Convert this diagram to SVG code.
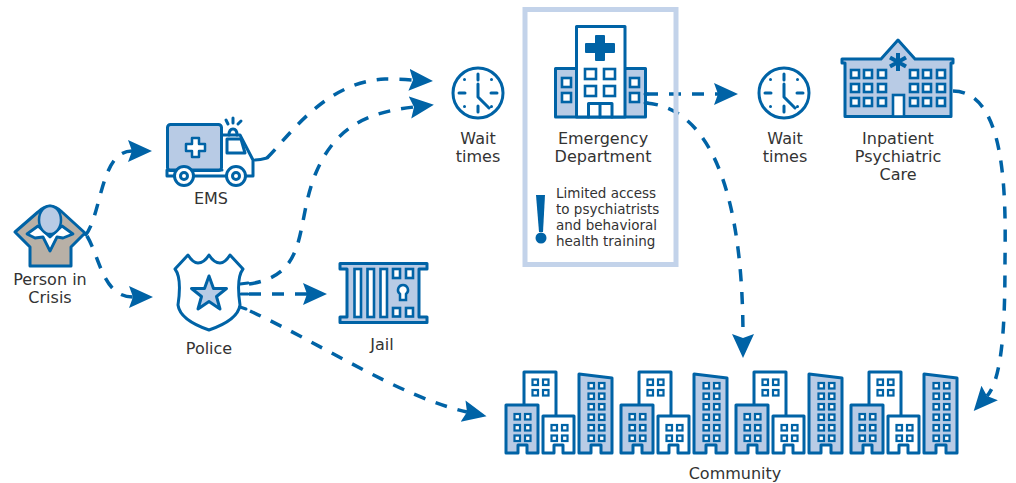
<svg xmlns="http://www.w3.org/2000/svg" xmlns:xlink="http://www.w3.org/1999/xlink" width="1016" height="483" viewBox="0 0 1016 483">
<style>
text{font-family:"DejaVu Sans","Noto Sans",sans-serif;font-size:16px;fill:#333;text-anchor:middle}
.small{font-size:13.500px;text-anchor:start}
.ln{stroke:#0063a6;stroke-width:3;fill:none;stroke-linejoin:round;stroke-linecap:round}
.bl{stroke:#0063a6;stroke-width:3;fill:#b8cbe5;stroke-linejoin:round}
.wh{stroke:#0063a6;stroke-width:3;fill:#fff;stroke-linejoin:round}
.win{stroke:#0063a6;stroke-width:2.600;fill:#fff}
.cw{stroke:#0063a6;stroke-width:2.200;fill:#fff}
.dash{stroke:#0063a6;stroke-width:3.500;fill:none;stroke-dasharray:12 11}
.solid{fill:#0063a6}
</style>
<defs>
<marker id="head" markerUnits="userSpaceOnUse" markerWidth="26" markerHeight="24" refX="4" refY="11" orient="auto"><path class="solid" d="M0,0 L24,11 L0,22 L4,11Z"/></marker>
<g id="clock">
<circle class="ln" r="25"/>
<path class="ln" d="M0,-19V-13M0,19V13M-19,0H-13M19,0H13M-13.500,-13.500h.01M13.500,-13.500h.01M-13.500,13.500h.01M13.500,13.500h.01M0,-9V4L11,15"/>
</g>
<g id="cluster">
<path class="wh" d="M524,405V372H556V416"/>
<path class="bl" d="M506,453V405H538V453H527V445H518V453Z"/>
<path class="wh" d="M543,453V416H574V453H563V445H554V453Z"/>
<path class="bl" d="M579,453V374L612,378V453H601V445H591V453Z"/>
<g class="cw">
<rect x="532.500" y="379.500" width="5.500" height="5.500"/><rect x="543" y="379.500" width="5.500" height="5.500"/><rect x="532.500" y="390" width="5.500" height="5.500"/><rect x="543" y="390" width="5.500" height="5.500"/>
<rect x="514.500" y="414" width="5.500" height="5.500"/><rect x="525" y="414" width="5.500" height="5.500"/><rect x="514.500" y="425" width="5.500" height="5.500"/><rect x="525" y="425" width="5.500" height="5.500"/><rect x="514.500" y="435.500" width="5.500" height="5.500"/><rect x="525" y="435.500" width="5.500" height="5.500"/>
<rect x="551.500" y="425" width="5.500" height="5.500"/><rect x="562" y="425" width="5.500" height="5.500"/><rect x="551.500" y="435.500" width="5.500" height="5.500"/><rect x="562" y="435.500" width="5.500" height="5.500"/>
<rect x="588.500" y="383" width="5.500" height="5.500"/><rect x="599" y="383" width="5.500" height="5.500"/><rect x="588.500" y="393.500" width="5.500" height="5.500"/><rect x="599" y="393.500" width="5.500" height="5.500"/><rect x="588.500" y="404" width="5.500" height="5.500"/><rect x="599" y="404" width="5.500" height="5.500"/><rect x="588.500" y="414.500" width="5.500" height="5.500"/><rect x="599" y="414.500" width="5.500" height="5.500"/><rect x="588.500" y="425" width="5.500" height="5.500"/><rect x="599" y="425" width="5.500" height="5.500"/><rect x="588.500" y="435.500" width="5.500" height="5.500"/><rect x="599" y="435.500" width="5.500" height="5.500"/>
</g>
</g>
</defs>
<rect width="1016" height="483" fill="#fff"/>

<g id="connectors">
<path class="dash" marker-end="url(#head)" d="M85,236C102,215 100,151 132,151"/>
<path class="dash" marker-end="url(#head)" d="M87,236C100,258 103,297 133,297"/>
<path class="ln" d="M255,160Q260,160 267,158"/>
<path class="dash" marker-end="url(#head)" d="M267,158C290,135 325,82 385,79Q395,79 413,80"/>
<path class="dash" marker-end="url(#head)" d="M249,284C310,275 295,225 315,175C335,125 370,112 414,107"/>
<path class="dash" marker-end="url(#head)" d="M249,294H307"/>
<path class="dash" marker-end="url(#head)" d="M250,311C320,343 400,397 467,412"/>
<path class="dash" marker-end="url(#head)" d="M646,94H718"/>
<path class="dash" marker-end="url(#head)" d="M646,103C700,107 743,170 743,338"/>
<path class="dash" marker-end="url(#head)" d="M953,91C1005,92 1006,190 1005,260C1005,320 1003,378 987,396"/>
</g>

<g id="person">
<path class="ln" style="fill:#b8b0a6" d="M30,266V247L15,232L38,212Q50,200 62,212L85,233L71,247V266Z"/>
<path fill="#fff" stroke="#0063a6" stroke-width="2.800" stroke-linejoin="round" d="M27,234L38,226L50,237L62,226L73,234L63,238L57,237L50,251L43,237L35,238Z"/>
<ellipse cx="50" cy="220" rx="11" ry="14" fill="#b8cbe5" stroke="#0063a6" stroke-width="2.500"/>
<text><tspan x="50" y="285">Person in</tspan><tspan x="50" y="303">Crisis</tspan></text>
</g>

<g id="ems">
<rect class="bl" x="167.500" y="124.500" width="54" height="46" rx="3"/>
<path class="ln" d="M222,135H240L253,160V176H167V170H222"/>
<path class="ln" d="M227,139H241L245,153H227Z"/>
<circle class="wh" cx="184" cy="176" r="9.500"/><circle class="wh" cx="184" cy="176" r="3.500"/>
<circle class="wh" cx="236" cy="176" r="9.500"/><circle class="wh" cx="236" cy="176" r="3.500"/>
<path class="ln" d="M229,135Q229,129 233,129Q237,129 237,135M226,120L228,124M233,118V123M241,121L238,124"/>
<path d="M192,138h7v6h6v7h-6v6h-7v-6h-6v-7h6Z" fill="#fff" stroke="#0063a6" stroke-width="2.500" stroke-linejoin="round"/>
<text x="211" y="204">EMS</text>
</g>

<g id="police">
<path class="ln" d="M175,269L188,255Q193,263 198,263Q204,263 209,255Q214,263 220,263Q225,263 230,255L243,269Q236,278 240,305Q238,320 209,330Q180,320 178,305Q182,278 175,269Z"/>
<path d="M209,276L213.500,288.500H226.500L216.500,296.500L220,309L209,301.500L198,309L201.500,296.500L191.500,288.500H204.500Z" fill="#b8cbe5" stroke="#0063a6" stroke-width="3" stroke-linejoin="round"/>
<path class="ln" d="M240,284L248,283M241,294H248M240,307L246,309"/>
<text x="209" y="354">Police</text>
</g>

<g id="jail">
<path class="bl" d="M340,263.500H427V269H419V317H427V322.500H340V317H347V269H340Z"/>
<rect class="win" x="354.500" y="269" width="6.500" height="48"/><rect class="win" x="367.500" y="269" width="6.500" height="48"/><rect class="win" x="380.500" y="269" width="6.500" height="48"/>
<rect class="win" x="393" y="269" width="7" height="9"/><rect class="win" x="406" y="269" width="7" height="9"/><rect class="win" x="393" y="308" width="7" height="8.500"/><rect class="win" x="406" y="308" width="7" height="8.500"/>
<path d="M403,285a5,5 0 0 1 3,9v6h-6v-6a5,5 0 0 1 3,-9Z" fill="#fff" stroke="#0063a6" stroke-width="2.500"/>
<text x="382" y="350">Jail</text>
</g>

<g id="wait1"><use xlink:href="#clock" href="#clock" x="478" y="93"/><text><tspan x="478" y="144">Wait</tspan><tspan x="478" y="162">times</tspan></text></g>

<g id="emergency">
<rect x="525" y="9.500" width="151" height="255" fill="none" stroke="#c3d3ea" stroke-width="5"/>
<rect class="bl" x="555.500" y="68.500" width="90" height="48.500"/>
<rect class="wh" x="576.500" y="26.500" width="48.500" height="90.500"/>
<path class="solid" d="M596,36h8v8h10v8h-10v8h-8v-8h-10v-8h10Z" stroke="#0063a6" stroke-width="2" stroke-linejoin="round"/>
<g class="win">
<rect x="585" y="69" width="11" height="10"/><rect x="604" y="69" width="11" height="10"/><rect x="585" y="86" width="11" height="10"/><rect x="604" y="86" width="11" height="10"/>
<rect x="562" y="78" width="9" height="9"/><rect x="562" y="93" width="9" height="9"/><rect x="630" y="78" width="9" height="9"/><rect x="630" y="93" width="9" height="9"/>
</g>
<path class="ln" d="M588.500,117V103.500H612V117M600,103.500V117"/>
<path class="ln" d="M645,94H648M645,103H648"/>
<text><tspan x="603" y="144">Emergency</tspan><tspan x="603" y="162">Department</tspan></text>
<path class="solid" d="M536,195H545L543,232H539Z"/><circle class="solid" cx="541" cy="238" r="5.500"/>
<text class="small"><tspan x="556" y="198">Limited access</tspan><tspan x="556" y="214">to psychiatrists</tspan><tspan x="556" y="230">and behavioral</tspan><tspan x="556" y="246">health training</tspan></text>
</g>

<g id="wait2"><use xlink:href="#clock" href="#clock" x="784" y="93"/><text><tspan x="785" y="144">Wait</tspan><tspan x="785" y="162">times</tspan></text></g>

<g id="inpatient">
<path class="bl" d="M845,116.500V63H842V59H881L898,40L915,59H953V63H951V116.500Z"/>
<g class="win">
<rect x="851" y="70" width="8" height="8"/><rect x="864" y="70" width="8" height="8"/><rect x="878" y="70" width="8" height="8"/><rect x="851" y="84" width="8" height="8"/><rect x="864" y="84" width="8" height="8"/><rect x="878" y="84" width="8" height="8"/><rect x="851" y="98" width="8" height="8"/><rect x="864" y="98" width="8" height="8"/><rect x="878" y="98" width="8" height="8"/>
<rect x="910" y="70" width="8" height="8"/><rect x="923" y="70" width="8" height="8"/><rect x="937" y="70" width="8" height="8"/><rect x="910" y="84" width="8" height="8"/><rect x="923" y="84" width="8" height="8"/><rect x="937" y="84" width="8" height="8"/><rect x="910" y="98" width="8" height="8"/><rect x="923" y="98" width="8" height="8"/><rect x="937" y="98" width="8" height="8"/>
<rect x="893" y="95" width="11" height="21.500"/>
</g>
<path d="M898,53V71M890,57.500L906,66.500M906,57.500L890,66.500" stroke="#0063a6" stroke-width="4" fill="none"/>
<text><tspan x="898" y="144">Inpatient</tspan><tspan x="898" y="162">Psychiatric</tspan><tspan x="898" y="180">Care</tspan></text>
</g>

<g id="community">
<use xlink:href="#cluster" href="#cluster"/>
<use xlink:href="#cluster" href="#cluster" x="115"/>
<use xlink:href="#cluster" href="#cluster" x="230"/>
<use xlink:href="#cluster" href="#cluster" x="345"/>
<text x="735" y="479">Community</text>
</g>
</svg>
